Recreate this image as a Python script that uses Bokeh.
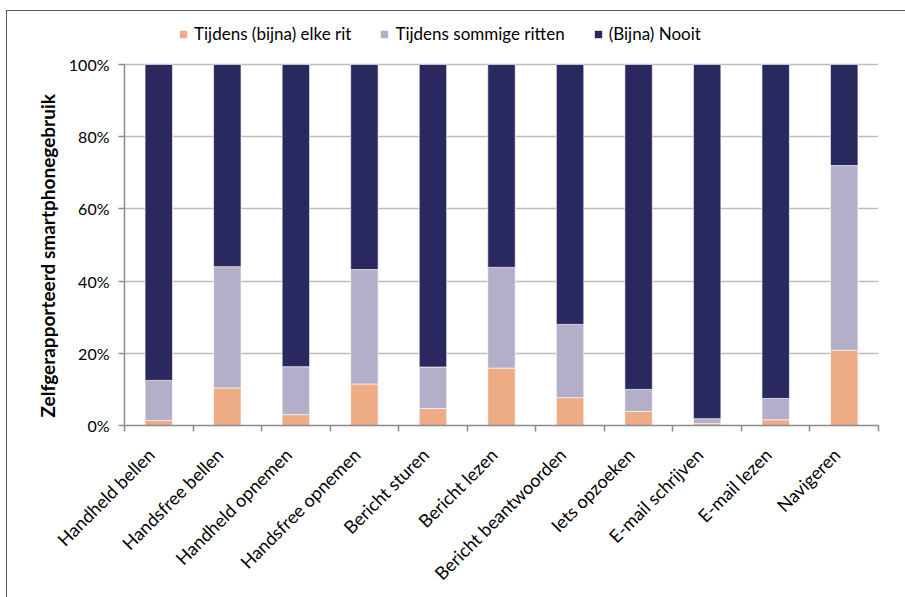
from math import pi

from bokeh.embed import file_html
from bokeh.models import ColumnDataSource, FixedTicker, Legend, LegendItem, NumeralTickFormatter, Title
from bokeh.plotting import figure
from bokeh.resources import INLINE

# Self-reported smartphone use while driving, shares per activity
activities = [
    "Handheld bellen", "Handsfree bellen", "Handheld opnemen", "Handsfree opnemen",
    "Bericht sturen", "Bericht lezen", "Bericht beantwoorden", "Iets opzoeken",
    "E-mail schrijven", "E-mail lezen", "Navigeren",
]
elke_rit = [0.014, 0.104, 0.030, 0.115, 0.047, 0.159, 0.077, 0.039, 0.005, 0.016, 0.208]
sommige_ritten = [0.111, 0.336, 0.133, 0.317, 0.115, 0.279, 0.203, 0.061, 0.014, 0.059, 0.512]
nooit = [0.875, 0.560, 0.837, 0.568, 0.838, 0.562, 0.720, 0.900, 0.981, 0.925, 0.280]

series_names = ["Tijdens (bijna) elke rit", "Tijdens sommige ritten", "(Bijna) Nooit"]
colors = ["#EDAB86", "#B3AFC8", "#29295F"]
y_ticks = [0.0, 0.2, 0.4, 0.6, 0.8, 1.0]
y_title = "Zelfgerapporteerd smartphonegebruik"

FONT = "Lato"

xs = [i + 0.5 for i in range(len(activities))]
source = ColumnDataSource(dict(x=xs, elke=elke_rit, sommige=sommige_ritten, nooit=nooit))

# The frame reaches above 100% to leave room for the legend; axis and grid stop at 100%.
TOP_PX, BOTTOM_PX, FULL_PX = 5, 173, 361
FRAME_PX = 587 - TOP_PX - BOTTOM_PX
p = figure(
    width=899, height=587,
    x_range=(0, len(activities)), y_range=(0, FRAME_PX / FULL_PX),
    output_backend="svg", toolbar_location=None,
    min_border_left=117, min_border_right=28, min_border_top=TOP_PX, min_border_bottom=BOTTOM_PX,
    outline_line_color=None,
)
p.margin = (10, 0, 0, 6)
p.styles = {"border-top": "1.5px solid #5a5a5a", "border-left": "1.5px solid #5a5a5a"}

renderers = p.vbar_stack(
    ["elke", "sommige", "nooit"], x="x", width=0.4, source=source,
    color=colors, line_color="white", line_alpha=0.6, line_width=1,
)

legend = Legend(
    items=[LegendItem(label=n, renderers=[r]) for n, r in zip(series_names, renderers)],
    orientation="horizontal", location=(54, FRAME_PX - 28),
    label_text_font=FONT, label_text_font_size="17px", label_text_color="#000000",
    glyph_width=10, glyph_height=10, spacing=28, label_standoff=6,
    background_fill_alpha=0, border_line_color=None, padding=4, margin=0,
)
p.add_layout(legend, "center")

# vertical axis title, starting just above the bottom of the frame
p.add_layout(Title(
    text=y_title, align="left", offset=8,
    text_font=FONT, text_font_size="19px", text_font_style="bold", text_color="#000000",
    standoff=14,
), "left")

# y axis
p.yaxis.ticker = FixedTicker(ticks=y_ticks)
p.yaxis.bounds = (0, 1)
p.yaxis.formatter = NumeralTickFormatter(format="0%")
p.yaxis.major_label_text_font = FONT
p.yaxis.major_label_text_font_size = "16px"
p.yaxis.major_label_text_color = "#000000"
p.yaxis.major_label_standoff = 9
p.yaxis.axis_line_color = "#8c8c8c"
p.yaxis.axis_line_width = 1.5
p.yaxis.major_tick_line_color = "#8c8c8c"
p.yaxis.major_tick_line_width = 1.5
p.yaxis.major_tick_in = 0
p.yaxis.major_tick_out = 6
p.yaxis.minor_tick_line_color = None

# x axis: slanted labels anchored at their top-right corner near the bar centre,
# tick marks on the category boundaries
label_pos = [x - 0.11 for x in xs]
p.xaxis.ticker = FixedTicker(ticks=label_pos, minor_ticks=list(range(len(activities) + 1)))
p.xaxis.major_label_overrides = {x: a for x, a in zip(label_pos, activities)}
p.xaxis.major_label_orientation = pi / 4
p.xaxis.major_label_text_font = FONT
p.xaxis.major_label_text_font_size = "18px"
p.xaxis.major_label_text_color = "#000000"
p.xaxis.major_label_standoff = 20
p.xaxis.axis_line_color = "#8c8c8c"
p.xaxis.axis_line_width = 1.5
p.xaxis.major_tick_line_color = None
p.xaxis.minor_tick_line_color = "#8c8c8c"
p.xaxis.minor_tick_line_width = 1.5
p.xaxis.minor_tick_in = 0
p.xaxis.minor_tick_out = 6

p.xgrid.grid_line_color = None
p.ygrid.ticker = FixedTicker(ticks=y_ticks)
p.ygrid.grid_line_color = "#bdbdbd"
p.ygrid.grid_line_width = 1.5

open("out.html", "w").write(file_html(p, INLINE))
